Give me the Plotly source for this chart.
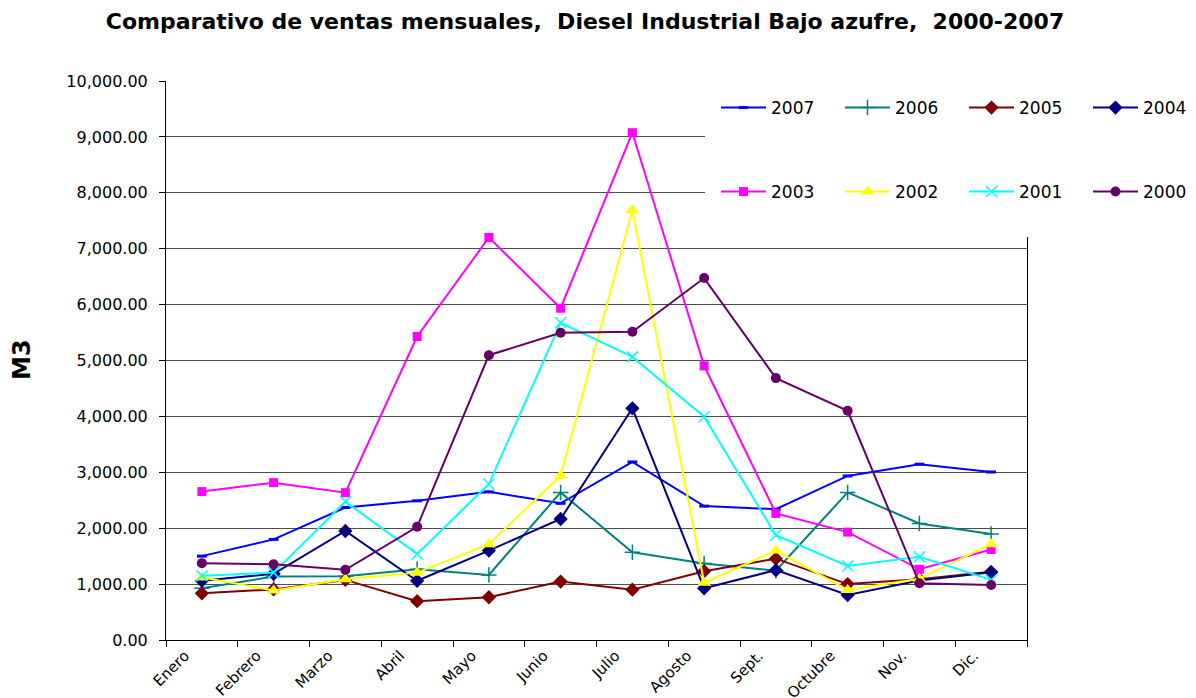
import plotly.graph_objects as go

months = ["Enero", "Febrero", "Marzo", "Abril", "Mayo", "Junio", "Julio",
          "Agosto", "Sept.", "Octubre", "Nov.", "Dic."]

v2007 = [1500, 1800, 2370, 2490, 2650, 2445, 3185, 2395, 2340, 2935, 3145, 3005]
v2006 = [925, 1135, 1140, 1265, 1165, 2640, 1570, 1370, 1240, 2640, 2085, 1895]
v2005 = [835, 905, 1075, 695, 765, 1045, 900, 1230, 1455, 1000, 1085, 1220]
v2004 = [1060, 1185, 1950, 1060, 1600, 2165, 4145, 925, 1250, 805, 1065, 1210]
v2003 = [2655, 2815, 2635, 5430, 7200, 5935, 9075, 4905, 2265, 1930, 1265, 1620]
v2002 = [1120, 885, 1085, 1205, 1715, 2940, 7690, 1025, 1600, 895, 1095, 1715]
v2001 = [1150, 1205, 2475, 1540, 2790, 5675, 5065, 3995, 1875, 1325, 1490, 1075]
v2000 = [1375, 1355, 1255, 2025, 5095, 5495, 5515, 6475, 4685, 4100, 1015, 985]

series = [
    ("2007", v2007, "#0000FF", dict(symbol="line-ew", size=7, line=dict(width=3, color="#0000FF")), "legend"),
    ("2006", v2006, "#008080", dict(symbol="cross-thin", size=11, line=dict(width=1.5, color="#008080")), "legend"),
    ("2005", v2005, "#800000", dict(symbol="diamond", size=11), "legend"),
    ("2004", v2004, "#000080", dict(symbol="diamond", size=11), "legend"),
    ("2003", v2003, "#FF00FF", dict(symbol="square", size=9), "legend2"),
    ("2002", v2002, "#FFFF00", dict(symbol="triangle-up", size=12), "legend2"),
    ("2001", v2001, "#00FFFF", dict(symbol="x-thin", size=11, line=dict(width=1.5, color="#00FFFF")), "legend2"),
    ("2000", v2000, "#660066", dict(symbol="circle", size=10), "legend2"),
]

FONT = "DejaVu Sans, sans-serif"

fig = go.Figure()
for name, vals, color, marker, leg in series:
    m = dict(color=color)
    m.update(marker)
    fig.add_trace(go.Scatter(
        x=months, y=vals, name=name, mode="lines+markers",
        line=dict(color=color, width=2), marker=m, legend=leg,
    ))

# the page body has an 8px margin, so figure coords = page coords - 8
OFF = 8
W, H = 1196 - OFF, 698 - OFF
L, R, T, B = 166 - OFF, 1027 - OFF, 81 - OFF, 640 - OFF

def px_x(p):  # page pixel -> paper x
    return (p - OFF - L) / (R - L)

def px_y(p):  # page pixel -> paper y
    return (B - (p - OFF)) / (B - T)

legend_common = dict(
    orientation="h", xanchor="left", yanchor="middle",
    font=dict(family=FONT, size=17, color="black"),
    bgcolor="rgba(255,255,255,0)", borderwidth=0,
    entrywidth=64, entrywidthmode="pixels", itemwidth=45,
    traceorder="normal",
)

fig.update_layout(
    width=W, height=H,
    margin=dict(l=L, r=W - R, t=T, b=H - B, pad=0, autoexpand=False),
    paper_bgcolor="white", plot_bgcolor="white",
    title=dict(
        text="<b>Comparativo de ventas mensuales,  Diesel Industrial Bajo azufre,  2000-2007</b>",
        font=dict(family=FONT, size=22, color="black"),
        x=(585 - OFF) / W, xanchor="center", y=1 - (21 - OFF) / H, yanchor="middle",
        xref="container", yref="container",
    ),
    xaxis=dict(
        type="category", showgrid=False, showline=True, linecolor="black", linewidth=1,
        ticks="outside", ticklen=6, tickcolor="black", tickson="boundaries",
        tickangle=-45, tickfont=dict(family=FONT, size=15, color="black"),
        ticklabelshift=-17,
        range=[-0.5, 11.5], zeroline=False,
    ),
    yaxis=dict(
        range=[0, 10000], dtick=1000, tickformat=",.2f",
        showgrid=True, gridcolor="#4d4d4d", gridwidth=1,
        showline=True, linecolor="black", linewidth=1, mirror=True,
        ticks="outside", ticklen=6, tickcolor="black",
        tickfont=dict(family=FONT, size=16, color="black"),
        ticklabelstandoff=8,
        zeroline=False,
    ),
    legend=dict(x=px_x(716), y=px_y(108), **legend_common),
    legend2=dict(x=px_x(716), y=px_y(192), **legend_common),
    showlegend=True,
)

# white area behind the legend (covers gridlines and right border there)
fig.add_shape(type="rect", xref="paper", yref="paper",
              x0=px_x(705), x1=px_x(1032), y0=px_y(237), y1=px_y(76),
              fillcolor="white", line=dict(width=0), layer="above")

fig.add_annotation(text="<b>M3</b>", xref="paper", yref="paper",
                   x=px_x(22), y=px_y(360), xanchor="center", yanchor="middle",
                   textangle=-90, showarrow=False,
                   font=dict(family=FONT, size=24, color="black"))

fig.write_html("out.html")
